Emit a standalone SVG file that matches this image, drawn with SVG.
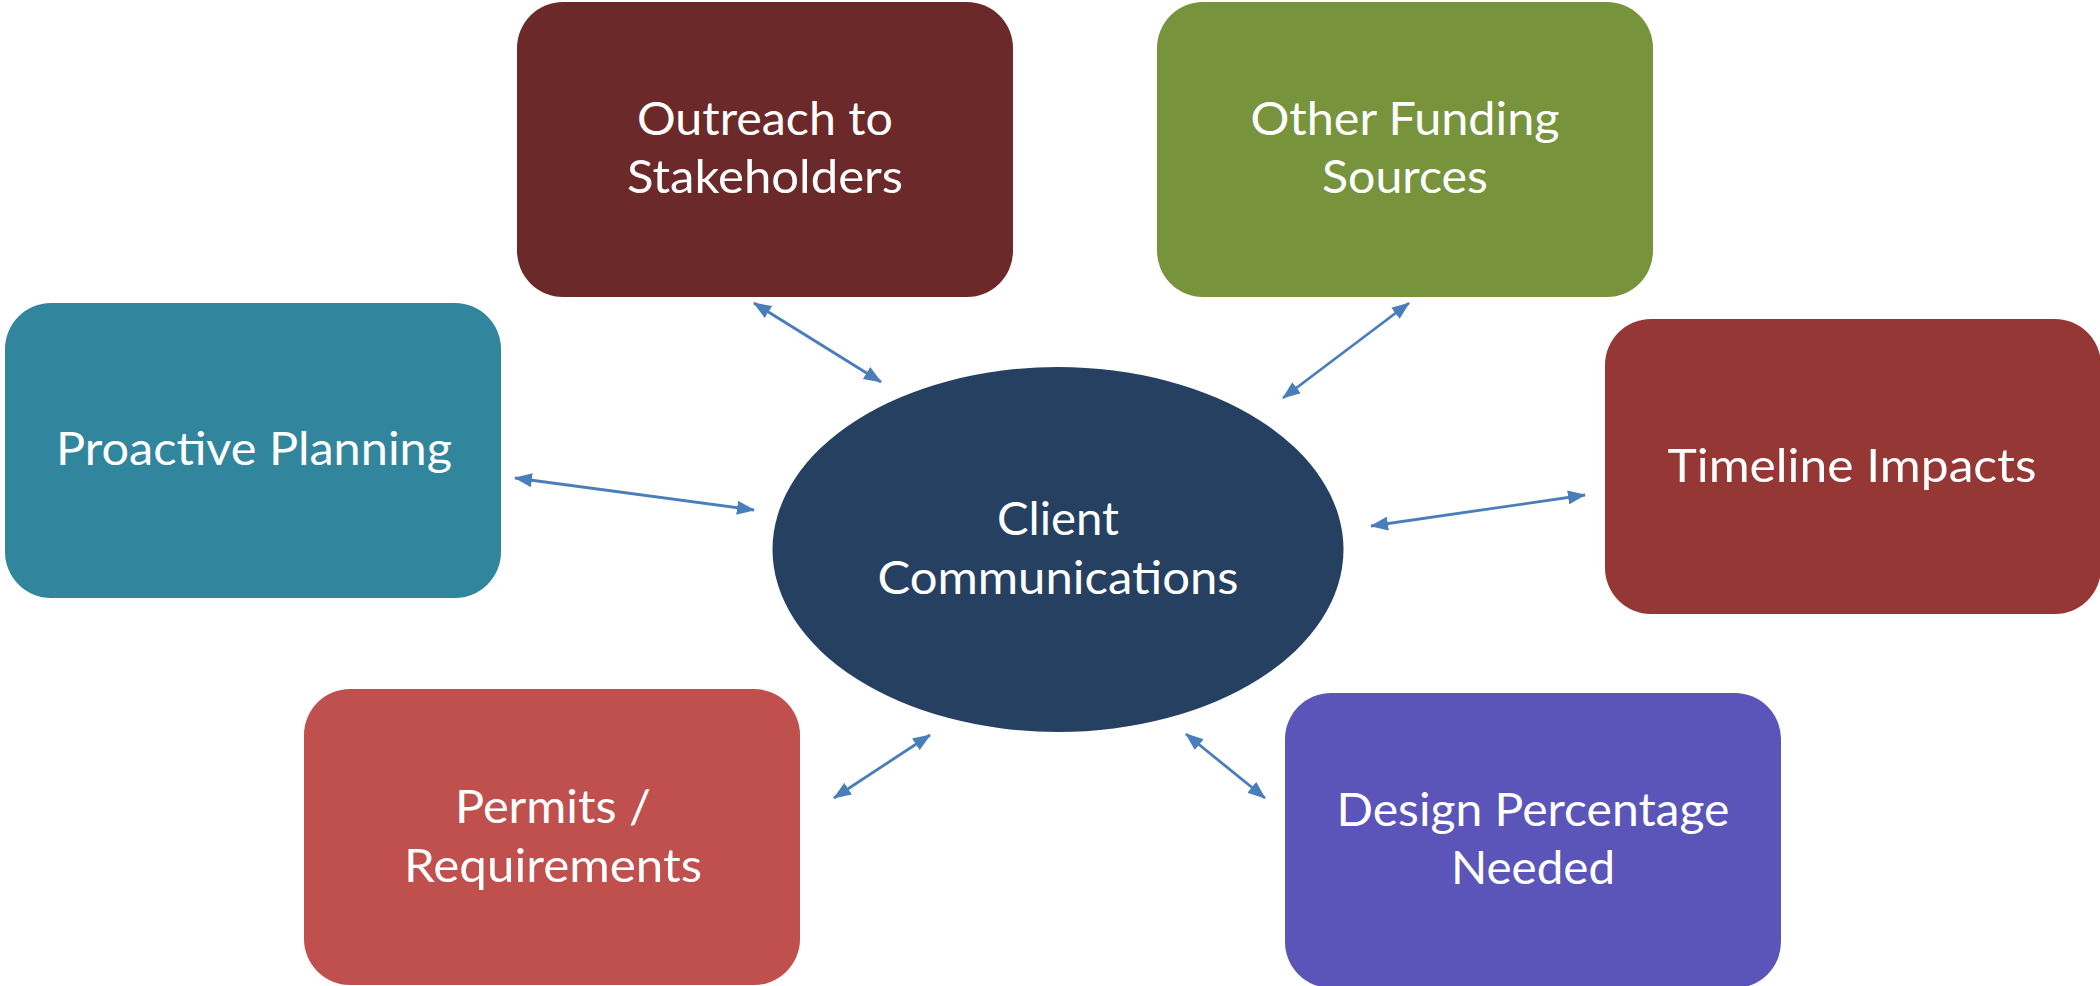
<svg xmlns="http://www.w3.org/2000/svg" width="2100" height="986" viewBox="0 0 2100 986">
<style>
.lbl{font-family:Lato,"Open Sans","Liberation Sans",sans-serif;font-size:47px;fill:#ffffff;text-anchor:middle}
.conn{stroke:#4A7EBB;stroke-width:2.8;fill:none;marker-start:url(#ah);marker-end:url(#ah)}
</style>
<defs>
<marker id="ah" markerUnits="userSpaceOnUse" markerWidth="18" markerHeight="14" viewBox="0 0 18 14" refX="17" refY="7" orient="auto-start-reverse">
<path d="M0,0 L18,7 L0,14 z" fill="#4A7EBB"/>
</marker>
</defs>
<rect width="2100" height="986" fill="#ffffff"/>
<g id="connectors">
<line class="conn" x1="754" y1="303" x2="881" y2="382"/>
<line class="conn" x1="1409" y1="303" x2="1283" y2="398"/>
<line class="conn" x1="515" y1="478" x2="754" y2="510"/>
<line class="conn" x1="1371" y1="526" x2="1585" y2="495"/>
<line class="conn" x1="930" y1="735" x2="834" y2="798"/>
<line class="conn" x1="1186" y1="734" x2="1265" y2="798"/>
</g>
<g id="outreach">
<rect x="517" y="2" width="496" height="295" rx="46" ry="46" fill="#6B2929"/>
<text class="lbl" x="765" y="135" textLength="256" lengthAdjust="spacingAndGlyphs">Outreach to</text>
<text class="lbl" x="765" y="193" textLength="276" lengthAdjust="spacingAndGlyphs">Stakeholders</text>
</g>
<g id="funding">
<rect x="1157" y="2" width="496" height="295" rx="46" ry="46" fill="#77933C"/>
<text class="lbl" x="1405" y="135" textLength="309" lengthAdjust="spacingAndGlyphs">Other Funding</text>
<text class="lbl" x="1405" y="193" textLength="166" lengthAdjust="spacingAndGlyphs">Sources</text>
</g>
<g id="proactive">
<rect x="5" y="303" width="496" height="295" rx="46" ry="46" fill="#31859C"/>
<text class="lbl" x="254" y="465" textLength="396" lengthAdjust="spacingAndGlyphs">Proactive Planning</text>
</g>
<g id="timeline">
<rect x="1605" y="319" width="496" height="295" rx="46" ry="46" fill="#953735"/>
<text class="lbl" x="1852" y="482" textLength="369" lengthAdjust="spacingAndGlyphs">Timeline Impacts</text>
</g>
<g id="permits">
<rect x="304" y="689" width="496" height="296" rx="46" ry="46" fill="#C0504D"/>
<text class="lbl" x="553" y="823" textLength="196" lengthAdjust="spacingAndGlyphs">Permits /</text>
<text class="lbl" x="553" y="882" textLength="298" lengthAdjust="spacingAndGlyphs">Requirements</text>
</g>
<g id="design">
<rect x="1285" y="693" width="496" height="295" rx="46" ry="46" fill="#5B55B9"/>
<text class="lbl" x="1533" y="826" textLength="393" lengthAdjust="spacingAndGlyphs">Design Percentage</text>
<text class="lbl" x="1533" y="884" textLength="164" lengthAdjust="spacingAndGlyphs">Needed</text>
</g>
<g id="client">
<ellipse cx="1058" cy="549.5" rx="285.5" ry="182.5" fill="#264061"/>
<text class="lbl" x="1058" y="535" textLength="122" lengthAdjust="spacingAndGlyphs">Client</text>
<text class="lbl" x="1058" y="594" textLength="361" lengthAdjust="spacingAndGlyphs">Communications</text>
</g>
</svg>
